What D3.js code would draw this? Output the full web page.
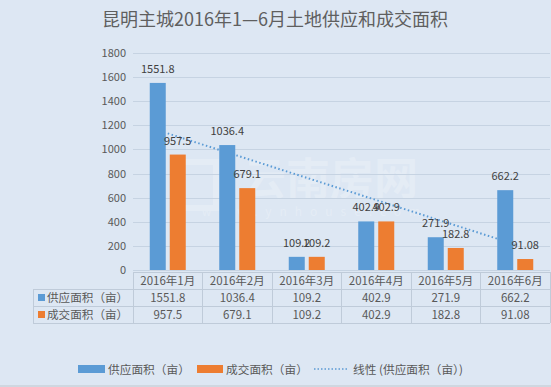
<!DOCTYPE html>
<html>
<head>
<meta charset="utf-8">
<script src="https://cdn.jsdelivr.net/npm/d3@7"></script>
<style>
    body { margin: 0; background: #dde7f3; }
    svg { display: block; font-family: "Noto Sans CJK SC", "Noto Sans", sans-serif; }
</style>
</head>
<body>
<svg id="chart" width="551" height="387"></svg>
<script>
// 数据
var months = ["2016年1月", "2016年2月", "2016年3月", "2016年4月", "2016年5月", "2016年6月"];
var supply = [1551.8, 1036.4, 109.2, 402.9, 271.9, 662.2];
var deal = [957.5, 679.1, 109.2, 402.9, 182.8, 91.08];
var seriesNames = ["供应面积（亩）", "成交面积（亩）"];
var trendName = "线性 (供应面积（亩）)";
var yTicks = [0, 200, 400, 600, 800, 1000, 1200, 1400, 1600, 1800];

var colors = ["#5b9bd5", "#ed7d31"];
var gridColor = "#c6d3e2";
var textColor = "#595959";

var svg = d3.select("#chart");
var W = 551, H = 387;

svg.append("rect").attr("width", W).attr("height", H).attr("fill", "#dde7f3");
svg.append("rect").attr("x", 0).attr("y", H - 2).attr("width", W).attr("height", 2).attr("fill", "#cfd7e0");

// 标题
svg.append("text")
    .attr("x", 275).attr("y", 26)
    .attr("text-anchor", "middle")
    .attr("font-size", "18px")
    .attr("fill", "#5f5f5f")
    .text("昆明主城2016年1—6月土地供应和成交面积");

var x = d3.scaleBand().domain(months).range([133, 550]).padding(0);
var inner = d3.scaleBand().domain([0, 1]).range([-18, 18]).paddingInner(0.2);
var y = d3.scaleLinear().domain([0, 1800]).range([270, 53]);

// 水印
var wm = svg.append("g").attr("fill", "#ffffff").attr("opacity", 0.22);
wm.append("rect").attr("x", 180).attr("y", 162).attr("width", 36).attr("height", 46)
    .attr("fill", "none").attr("stroke", "#fff").attr("stroke-width", 6);
wm.append("text").attr("x", 330).attr("y", 195).attr("text-anchor", "middle")
    .attr("font-size", "44px").attr("font-weight", "bold").text("云南房网");
wm.append("text").attr("x", 315).attr("y", 216).attr("text-anchor", "middle")
    .attr("font-size", "12px").attr("letter-spacing", "8px").text("www.ynhouse.com");

// 网格线
svg.append("g").selectAll("line")
    .data(yTicks)
    .enter().append("line")
    .attr("x1", 133).attr("x2", 550)
    .attr("y1", function(d) { return Math.round(y(d)) + 0.5; })
    .attr("y2", function(d) { return Math.round(y(d)) + 0.5; })
    .attr("stroke", gridColor);

// Y轴
var yAxis = svg.append("g")
    .attr("transform", "translate(126,0)")
    .call(d3.axisLeft(y).tickValues(yTicks).tickFormat(d3.format("d")).tickSize(0).tickPadding(0));
yAxis.select(".domain").remove();
yAxis.selectAll("text").attr("font-size", "11px").attr("fill", textColor)
    .attr("font-family", "\"Noto Sans CJK SC\", sans-serif");

// 趋势线 (线性回归)
var n = supply.length;
var xs = d3.range(1, n + 1);
var mx = d3.mean(xs), my = d3.mean(supply);
var sxy = d3.sum(xs, function(v, i) { return (v - mx) * (supply[i] - my); });
var sxx = d3.sum(xs, function(v) { return (v - mx) * (v - mx); });
var slope = sxy / sxx, icpt = my - slope * mx;
var trendPts = [0, n - 1].map(function(i) {
    return [x(months[i]) + x.bandwidth() / 2, y(icpt + slope * (i + 1))];
});
svg.append("path")
    .attr("d", d3.line()(trendPts))
    .attr("fill", "none")
    .attr("stroke", "#5b9bd5")
    .attr("stroke-width", 2)
    .attr("stroke-dasharray", "1.5,2.5");

// 柱形
[supply, deal].forEach(function(vals, s) {
    var g = svg.append("g");
    g.selectAll("rect")
        .data(vals)
        .enter().append("rect")
        .attr("x", function(d, i) { return x(months[i]) + x.bandwidth() / 2 + inner(s); })
        .attr("width", inner.bandwidth())
        .attr("y", function(d) { return y(d); })
        .attr("height", function(d) { return y(0) - y(d); })
        .attr("fill", colors[s]);
    g.selectAll("text")
        .data(vals)
        .enter().append("text")
        .attr("x", function(d, i) { return x(months[i]) + x.bandwidth() / 2 + inner(s) + inner.bandwidth() / 2; })
        .attr("y", function(d) { return y(d) - 10; })
        .attr("text-anchor", "middle")
        .attr("font-size", "11px")
        .attr("fill", "#404040")
        .text(function(d) { return String(d); });
});

// 数据表
var rows = [272, 289, 306, 323];
var table = svg.append("g").attr("stroke", "#bfcbd9").attr("shape-rendering", "crispEdges");
table.append("line").attr("x1", 133).attr("x2", 550).attr("y1", rows[0]).attr("y2", rows[0]);
[1, 2, 3].forEach(function(r) {
    table.append("line").attr("x1", 33).attr("x2", 550).attr("y1", rows[r]).attr("y2", rows[r]);
});
table.append("line").attr("x1", 33).attr("x2", 33).attr("y1", rows[1]).attr("y2", rows[3]);
months.forEach(function(m) {
    table.append("line").attr("x1", x(m)).attr("x2", x(m)).attr("y1", rows[0]).attr("y2", rows[3]);
});
table.append("line").attr("x1", 550).attr("x2", 550).attr("y1", rows[0]).attr("y2", rows[3]);

svg.append("g").selectAll("text")
    .data(months)
    .enter().append("text")
    .attr("x", function(d) { return x(d) + x.bandwidth() / 2; })
    .attr("y", 285)
    .attr("text-anchor", "middle")
    .attr("font-size", "11.5px")
    .attr("fill", textColor)
    .text(function(d) { return d; });

[supply, deal].forEach(function(vals, s) {
    var cy = (rows[s + 1] + rows[s + 2]) / 2;
    svg.append("rect").attr("x", 38).attr("y", cy - 3.5).attr("width", 7).attr("height", 7).attr("fill", colors[s]);
    svg.append("text").attr("x", 47).attr("y", cy + 4.5)
        .attr("font-size", "11.6px").attr("fill", textColor).text(seriesNames[s]);
    svg.append("g").selectAll("text")
        .data(vals)
        .enter().append("text")
        .attr("x", function(d, i) { return x(months[i]) + x.bandwidth() / 2; })
        .attr("y", cy + 4.5)
        .attr("text-anchor", "middle")
        .attr("font-size", "11.5px")
        .attr("fill", textColor)
        .text(function(d) { return String(d); });
});

// 图例
var ly = 369;
var legend = svg.append("g");
legend.append("rect").attr("x", 78).attr("y", ly - 4).attr("width", 27).attr("height", 8).attr("fill", colors[0]);
legend.append("text").attr("x", 108).attr("y", ly + 4.5).attr("font-size", "11.7px").attr("fill", textColor).text(seriesNames[0]);
legend.append("rect").attr("x", 197).attr("y", ly - 4).attr("width", 26).attr("height", 8).attr("fill", colors[1]);
legend.append("text").attr("x", 226).attr("y", ly + 4.5).attr("font-size", "11.7px").attr("fill", textColor).text(seriesNames[1]);
legend.append("line").attr("x1", 314).attr("x2", 348).attr("y1", ly).attr("y2", ly)
    .attr("stroke", "#5b9bd5").attr("stroke-width", 1.5).attr("stroke-dasharray", "1.5,2");
legend.append("text").attr("x", 353).attr("y", ly + 4.5).attr("font-size", "11.7px").attr("fill", textColor).text(trendName);
</script>
</body>
</html>
